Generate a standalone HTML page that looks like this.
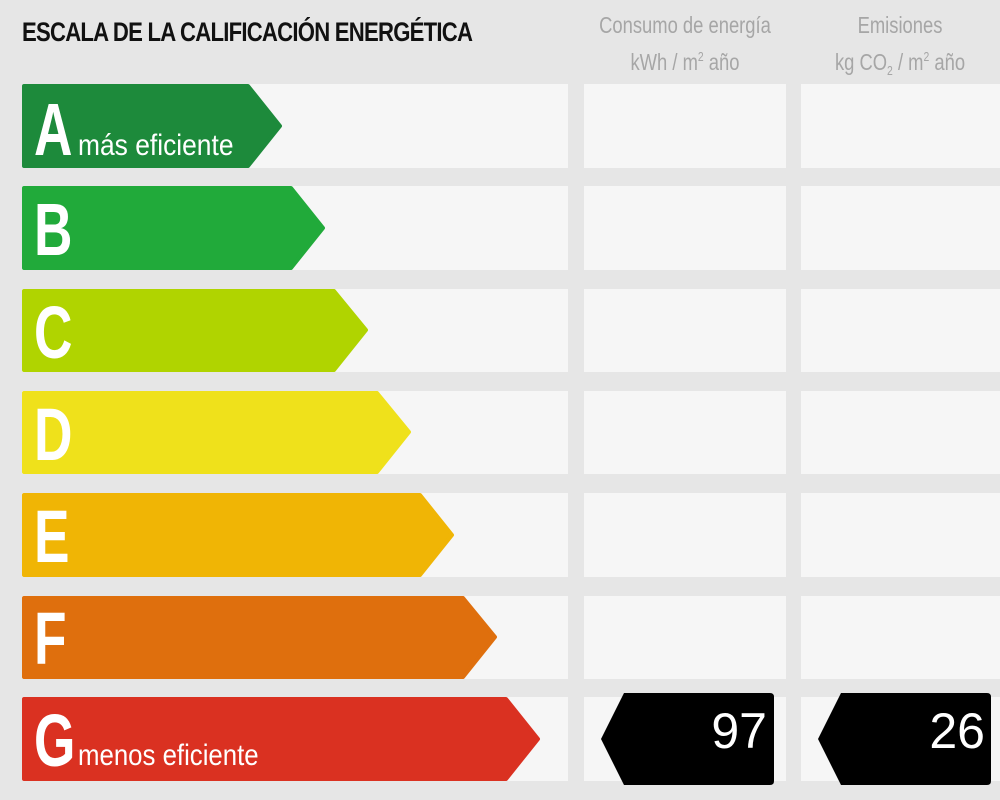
<!DOCTYPE html>
<html><head><meta charset="utf-8"><style>
html,body{margin:0;padding:0;background:#e6e6e6;}
svg{display:block;}
</style></head><body>
<svg width="1000" height="800" xmlns="http://www.w3.org/2000/svg" font-family="Liberation Sans, sans-serif">
<rect width="1000" height="800" fill="#e6e6e6"/>
<text x="22" y="41" font-size="27" font-weight="bold" fill="#111" transform="translate(22 0) scale(0.82 1) translate(-22 0)" textLength="550">ESCALA DE LA CALIFICACIÓN ENERGÉTICA</text>
<g fill="#a6a6a6" font-size="23" text-anchor="middle">
<text x="685" y="33" transform="translate(685 0) scale(0.8 1) translate(-685 0)">Consumo de energía</text>
<text x="685" y="70" transform="translate(685 0) scale(0.8 1) translate(-685 0)">kWh / m<tspan font-size="13" dy="-9">2</tspan><tspan dy="9"> año</tspan></text>
<text x="900" y="33" transform="translate(900 0) scale(0.8 1) translate(-900 0)">Emisiones</text>
<text x="900" y="70" transform="translate(900 0) scale(0.8 1) translate(-900 0)">kg CO<tspan font-size="13" dy="5">2</tspan><tspan dy="-5"> / m</tspan><tspan font-size="13" dy="-9">2</tspan><tspan dy="9"> año</tspan></text>
</g>
<g fill="#f6f6f6">
<rect x="22" y="84" width="546" height="84"/><rect x="584" y="84" width="202" height="84"/><rect x="801" y="84" width="199" height="84"/>
<rect x="22" y="186" width="546" height="84"/><rect x="584" y="186" width="202" height="84"/><rect x="801" y="186" width="199" height="84"/>
<rect x="22" y="289" width="546" height="83"/><rect x="584" y="289" width="202" height="83"/><rect x="801" y="289" width="199" height="83"/>
<rect x="22" y="391" width="546" height="83"/><rect x="584" y="391" width="202" height="83"/><rect x="801" y="391" width="199" height="83"/>
<rect x="22" y="493" width="546" height="84"/><rect x="584" y="493" width="202" height="84"/><rect x="801" y="493" width="199" height="84"/>
<rect x="22" y="596" width="546" height="83"/><rect x="584" y="596" width="202" height="83"/><rect x="801" y="596" width="199" height="83"/>
<rect x="22" y="697" width="546" height="84"/><rect x="584" y="697" width="202" height="84"/><rect x="801" y="697" width="199" height="84"/>
</g>
<g stroke-linejoin="round" stroke-width="4">
<path d="M24 86 H248 L280 126 L248 166 H24 Z" fill="#1d8a3b" stroke="#1d8a3b"/>
<path d="M24 188 H291 L323 228 L291 268 H24 Z" fill="#21aa3a" stroke="#21aa3a"/>
<path d="M24 291 H334 L366 330 L334 370 H24 Z" fill="#b0d400" stroke="#b0d400"/>
<path d="M24 393 H377 L409 432 L377 472 H24 Z" fill="#efe11b" stroke="#efe11b"/>
<path d="M24 495 H420 L452 535 L420 575 H24 Z" fill="#f0b505" stroke="#f0b505"/>
<path d="M24 598 H463 L495 637 L463 677 H24 Z" fill="#df6f0d" stroke="#df6f0d"/>
<path d="M24 699 H506 L538 739 L506 779 H24 Z" fill="#da3121" stroke="#da3121"/>
</g>
<g fill="#fff" font-weight="bold" font-size="74">
<text x="34" y="155" transform="translate(34 0) scale(0.72 1) translate(-34 0)">A</text>
<text x="34" y="255" transform="translate(34 0) scale(0.72 1) translate(-34 0)">B</text>
<text x="34" y="358" transform="translate(34 0) scale(0.72 1) translate(-34 0)">C</text>
<text x="34" y="460" transform="translate(34 0) scale(0.72 1) translate(-34 0)">D</text>
<text x="34" y="562" transform="translate(34 0) scale(0.72 1) translate(-34 0)">E</text>
<text x="34" y="664" transform="translate(34 0) scale(0.72 1) translate(-34 0)">F</text>
<text x="34" y="766" transform="translate(34 0) scale(0.72 1) translate(-34 0)">G</text>
</g>
<g fill="#fff" font-size="30">
<text x="78" y="155" transform="translate(78 0) scale(0.88 1) translate(-78 0)">más eficiente</text>
<text x="78" y="765" transform="translate(78 0) scale(0.86 1) translate(-78 0)">menos eficiente</text>
</g>
<path d="M624 693 H770 Q774 693 774 697 V781 Q774 785 770 785 H624 L601 739 Z" fill="#000"/>
<path d="M841 693 H987 Q991 693 991 697 V781 Q991 785 987 785 H841 L818 739 Z" fill="#000"/>
<g fill="#fff" font-size="50" text-anchor="end">
<text x="767" y="748">97</text>
<text x="985" y="748">26</text>
</g>
</svg>
</body></html>
